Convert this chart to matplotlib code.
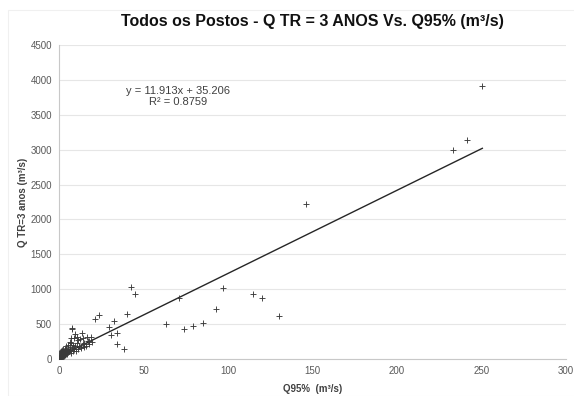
import matplotlib
matplotlib.use("Agg")
import matplotlib.pyplot as plt
from matplotlib.patches import Rectangle
import numpy as np

plt.rcParams['font.family'] = ['Liberation Sans', 'DejaVu Sans']

# Q95% (m3/s)
q95 = [0.1, 0.2, 0.3, 0.4, 0.5, 0.6, 0.7, 0.8, 0.9, 1.0, 1.1, 1.2, 1.3, 1.4, 1.5,
       1.6, 1.7, 1.9, 2.0, 2.1, 2.2, 2.3, 2.4, 2.6, 2.8, 2.9, 3.0, 3.2, 3.4, 3.5,
       3.6, 3.8, 4.0, 4.2, 4.4, 4.5, 4.8, 5.0, 5.3, 5.5, 5.6, 6.0, 6.3, 6.5, 6.7,
       6.9, 7.0, 7.2, 7.5, 7.9, 7.9, 8.0, 8.5, 8.8, 8.9, 9.0, 9.5, 9.7, 10.0,
       10.5, 10.9, 11.0, 11.5, 12.0, 12.5, 12.9, 13.0, 13.8, 14.0, 14.4, 14.8,
       15.0, 16.0, 16.5, 17.0, 17.8, 18.0, 19.2, 19.7, 21.2, 23.9, 29.6, 30.6,
       32.6, 34.6, 34.6, 38.4, 40.3, 42.7, 45.1, 63.6, 71.1, 73.7, 79.0, 85.0,
       92.9, 96.8, 115.0, 120.0, 130.0, 146.1, 233.2, 241.5, 250.5]
# Q TR=3 anos (m3/s)
qtr3 = [5, 10, 25, 60, 15, 40, 90, 30, 70, 50, 20, 110, 60, 95, 35,
        130, 80, 45, 70, 140, 100, 30, 55, 90, 120, 40, 75, 110, 60, 150,
        130, 95, 85, 140, 180, 105, 70, 125, 150, 200, 95, 110, 170, 250, 130,
        234, 90, 300, 160, 449, 430, 120, 200, 300, 139, 140, 180, 360, 110,
        230, 320, 150, 270, 190, 280, 153, 170, 377, 210, 306, 177,
        230, 190, 310, 260, 258, 220, 320, 248, 569, 635, 454, 344,
        545, 219, 377, 148, 649, 1036, 927, 497, 870, 425, 477, 520,
        716, 1013, 927, 874, 616, 2221, 2991, 3145, 3912]

slope, intercept = 11.913, 35.206
x_ticks = [0, 50, 100, 150, 200, 250, 300]
y_ticks = [0, 500, 1000, 1500, 2000, 2500, 3000, 3500, 4000, 4500]

fig = plt.figure(figsize=(5.74, 3.96), dpi=100)
fig.patches.append(Rectangle((8/574, 0), 1.2, (396-10)/396, transform=fig.transFigure,
                             facecolor='none', edgecolor='#f0f0f0', lw=0.8))
ax = fig.add_axes([59/574, 37/396, (566-59)/574, (359-45)/396])

ax.scatter(q95, qtr3, marker='+', s=20, color='#3a3a3a', linewidths=0.65, zorder=3)
xl = np.array([min(q95), max(q95)])
ax.plot(xl, slope * xl + intercept, color='#262626', lw=1.0, zorder=2)

ax.set_xlim(0, 300)
ax.set_ylim(0, 4500)
ax.set_xticks(x_ticks)
ax.set_yticks(y_ticks)
ax.yaxis.grid(True, color='#e6e6e6', lw=0.8)
ax.set_axisbelow(True)
for s in ['top', 'right']:
    ax.spines[s].set_visible(False)
for s in ['left', 'bottom']:
    ax.spines[s].set_color('#c8c8c8')
    ax.spines[s].set_linewidth(0.8)
ax.tick_params(axis='both', length=0, labelsize=7, colors='#595959', pad=5)

ax.set_title('Todos os Postos - Q TR = 3 ANOS Vs. Q95% (m³/s)', fontsize=11.5,
             fontweight='bold', color='#111111', pad=14)
ax.set_xlabel('Q95%  (m³/s)', fontsize=7, fontweight='bold', color='#404040', labelpad=6)
ax.set_ylabel('Q TR=3 anos (m³/s)', fontsize=7, fontweight='bold', color='#404040', labelpad=2)

ax.text(0.235, 0.836, 'y = 11.913x + 35.206\nR² = 0.8759', transform=ax.transAxes,
        ha='center', va='center', fontsize=8, color='#404040', linespacing=1.2)

fig.savefig('out.png', dpi=100, facecolor='white')
